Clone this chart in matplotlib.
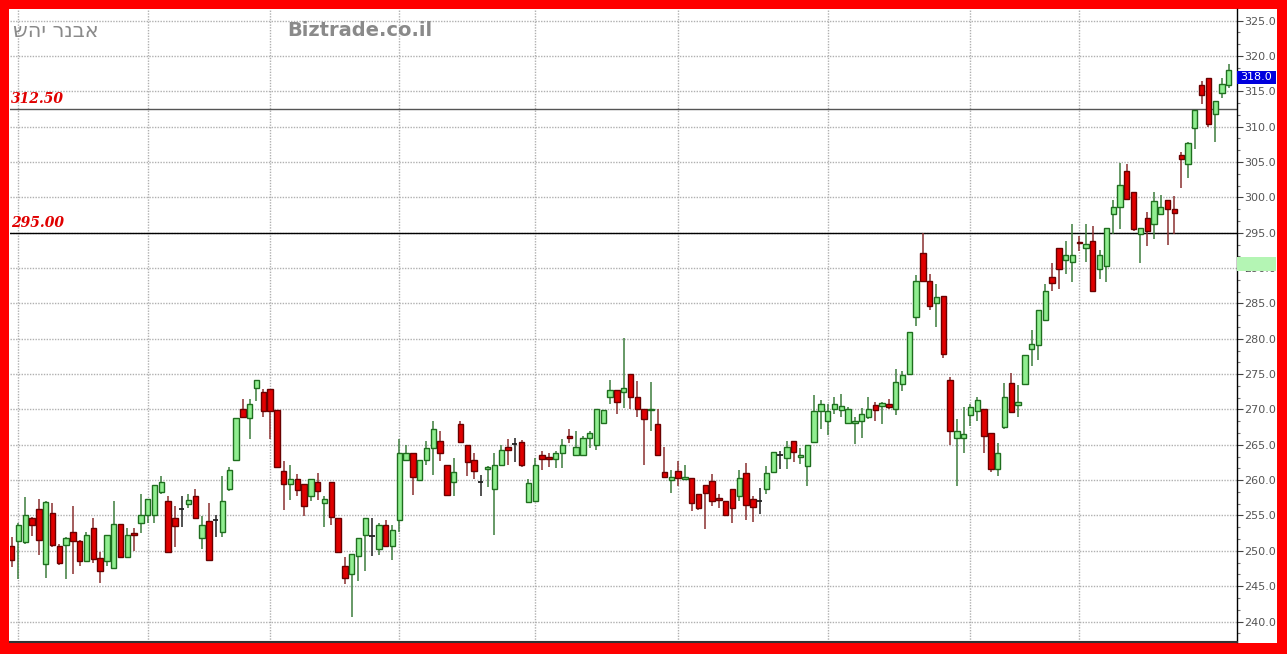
import matplotlib
matplotlib.use("Agg")
import matplotlib.pyplot as plt
from matplotlib.patches import Rectangle
from matplotlib.ticker import MultipleLocator, FormatStrFormatter
import matplotlib.transforms as mtransforms

# daily OHLC
opens = [250.7, 251.4, 251.2, 254.7, 255.9, 248.2, 255.4, 250.7, 250.8, 252.7,
         251.4, 248.6, 253.2, 249.0, 248.6, 247.6, 253.8, 249.1, 252.5, 254.0,
         255.0, 255.0, 258.3, 257.0, 254.7, 255.9, 256.6, 257.8, 251.8, 254.2,
         254.3, 252.6, 258.7, 262.8, 270.0, 268.8, 273.0, 272.5, 272.9, 269.9,
         261.3, 259.5, 260.1, 259.4, 257.7, 259.7, 256.8, 259.7, 254.7, 247.8,
         246.7, 249.2, 252.2, 252.1, 250.2, 253.6, 250.7, 254.4, 262.8, 263.8,
         260.0, 262.8, 264.5, 265.5, 262.2, 259.8, 267.9, 264.9, 262.8, 259.8,
         261.6, 258.8, 262.2, 264.7, 265.1, 265.4, 256.9, 257.0, 263.6, 263.25,
         263.0, 263.8, 266.2, 263.5, 263.5, 266.0, 265.0, 268.1, 271.8, 272.7,
         272.4, 275.0, 271.7, 270.1, 269.9, 268.0, 261.1, 260.0, 261.3, 260.1,
         260.3, 258.1, 259.3, 259.9, 257.5, 257.0, 258.8, 257.7, 261.0, 257.4,
         257.1, 258.8, 261.2, 263.6, 263.2, 265.5, 263.3, 262.0, 265.4, 269.8,
         268.3, 270.1, 269.9, 268.1, 268.1, 268.3, 268.9, 270.6, 270.5, 270.8,
         270.1, 273.6, 275.0, 283.1, 292.1, 288.1, 285.0, 286.0, 274.1, 266.0,
         265.9, 269.2, 269.8, 270.0, 266.7, 261.6, 267.5, 273.8, 270.6, 273.6,
         278.6, 279.1, 282.7, 288.8, 292.9, 291.2, 290.8, 293.7, 292.9, 293.8,
         289.8, 290.3, 297.7, 298.6, 303.7, 300.8, 294.8, 297.1, 296.2, 297.6,
         299.7, 298.4, 306.0, 304.7, 309.8, 315.9, 316.9, 311.8, 314.8, 315.9]
highs = [252.0, 254.0, 257.6, 254.8, 257.3, 257.1, 256.8, 251.0, 252.0, 256.3,
         251.5, 252.7, 254.6, 249.9, 252.2, 257.1, 253.8, 253.2, 253.2, 258.0,
         257.4, 259.3, 260.6, 257.7, 256.4, 257.7, 258.0, 258.8, 254.9, 256.7,
         255.1, 260.6, 261.9, 268.8, 271.5, 271.5, 274.2, 272.9, 272.9, 269.9,
         262.7, 262.2, 260.8, 259.4, 260.2, 261.0, 257.8, 259.7, 254.7, 249.1,
         249.5, 251.8, 254.7, 254.6, 253.9, 254.4, 253.6, 265.8, 265.0, 263.8,
         262.8, 265.5, 268.3, 266.9, 262.2, 263.2, 268.3, 264.9, 263.8, 260.7,
         262.0, 263.8, 265.0, 265.8, 266.0, 265.7, 260.2, 263.2, 264.1, 263.8,
         264.1, 265.8, 267.3, 267.0, 266.3, 267.0, 270.1, 269.9, 274.2, 272.7,
         280.1, 275.0, 274.0, 270.1, 273.9, 270.0, 264.7, 261.5, 262.7, 262.1,
         260.3, 258.1, 259.3, 260.9, 258.0, 257.0, 258.8, 261.4, 262.4, 257.7,
         258.9, 262.0, 264.0, 264.1, 265.5, 265.5, 264.5, 264.9, 272.0, 271.3,
         270.7, 271.7, 272.2, 270.3, 268.9, 270.2, 271.7, 271.0, 271.1, 271.5,
         275.7, 275.4, 281.0, 289.0, 295.0, 289.1, 287.7, 286.0, 274.6, 268.6,
         270.3, 270.8, 271.8, 270.0, 266.7, 265.2, 273.7, 275.2, 273.4, 277.7,
         281.2, 284.1, 287.7, 290.7, 292.9, 293.8, 296.2, 294.5, 296.3, 296.0,
         292.6, 295.7, 299.7, 304.9, 304.7, 300.8, 295.7, 297.9, 300.7, 300.3,
         299.7, 300.2, 306.4, 307.9, 312.4, 316.4, 316.9, 313.7, 316.9, 318.8]
lows = [247.7, 246.0, 251.0, 252.1, 249.4, 246.2, 250.5, 248.0, 246.0, 246.7,
        247.8, 248.6, 248.3, 245.5, 247.9, 247.6, 249.1, 249.1, 250.0, 252.5,
        254.0, 253.9, 258.0, 249.8, 250.6, 253.4, 256.0, 254.6, 250.3, 248.7,
        251.9, 252.0, 258.4, 262.8, 269.0, 265.8, 271.2, 268.9, 265.8, 261.8,
        255.8, 257.2, 257.7, 254.9, 257.1, 257.2, 253.4, 253.6, 249.8, 245.3,
        240.7, 245.7, 247.2, 249.2, 249.4, 250.7, 248.7, 252.7, 262.8, 257.9,
        260.0, 262.1, 260.7, 262.7, 257.9, 257.7, 265.4, 260.6, 260.1, 257.7,
        259.0, 252.2, 262.0, 262.1, 262.5, 261.9, 256.9, 257.0, 261.5, 261.9,
        261.7, 261.7, 265.3, 263.5, 263.5, 264.6, 264.3, 268.1, 270.8, 269.3,
        270.2, 270.1, 269.0, 262.2, 266.9, 263.5, 260.5, 258.2, 259.2, 260.1,
        255.6, 255.8, 253.1, 256.4, 256.1, 255.0, 254.0, 257.0, 254.4, 254.1,
        255.2, 258.1, 261.2, 261.6, 261.6, 262.6, 262.3, 259.2, 265.4, 267.3,
        266.4, 269.3, 268.9, 268.1, 265.1, 266.0, 268.6, 268.4, 268.0, 270.0,
        269.2, 272.6, 275.0, 281.8, 288.1, 284.0, 281.6, 277.3, 265.0, 259.2,
        263.9, 267.6, 268.4, 263.8, 261.1, 260.6, 267.3, 269.6, 269.0, 273.6,
        276.1, 277.0, 282.7, 286.7, 287.0, 289.1, 288.0, 292.4, 290.8, 286.7,
        288.4, 288.0, 294.8, 295.5, 299.7, 295.2, 290.7, 293.1, 294.1, 297.6,
        293.3, 294.8, 301.3, 302.8, 306.9, 313.2, 309.9, 307.9, 314.1, 315.5]
closes = [248.7, 253.7, 255.0, 253.6, 251.5, 256.9, 250.8, 248.3, 251.8, 251.4,
          248.6, 252.2, 248.9, 247.2, 252.2, 253.8, 249.1, 252.2, 252.3, 255.0,
          257.4, 259.3, 259.7, 249.8, 253.5, 255.9, 257.2, 254.6, 253.7, 248.7,
          254.3, 257.1, 261.4, 268.8, 269.0, 270.8, 274.2, 269.8, 269.8, 261.8,
          259.5, 260.1, 258.6, 256.3, 260.2, 258.4, 257.3, 254.8, 249.8, 246.1,
          249.5, 251.8, 254.7, 252.1, 253.6, 250.7, 252.9, 263.8, 263.8, 260.5,
          262.8, 264.6, 267.2, 263.8, 257.9, 261.1, 265.4, 262.5, 261.3, 259.8,
          261.8, 262.2, 264.2, 264.3, 265.1, 262.1, 259.6, 262.2, 263.0, 263.05,
          263.8, 265.0, 266.0, 264.7, 266.0, 266.6, 270.1, 269.9, 272.7, 271.0,
          273.0, 271.7, 270.1, 268.7, 270.1, 263.5, 260.5, 260.4, 260.3, 260.4,
          256.7, 256.0, 258.2, 257.0, 257.2, 255.1, 256.0, 260.3, 256.5, 256.2,
          257.1, 261.0, 264.0, 263.6, 264.7, 264.0, 263.6, 264.9, 269.8, 270.8,
          269.8, 270.7, 270.5, 270.1, 268.4, 269.4, 270.1, 269.9, 270.9, 270.4,
          273.9, 274.9, 281.0, 288.1, 288.1, 284.6, 285.9, 277.8, 266.9, 266.9,
          266.5, 270.3, 271.3, 266.2, 261.6, 263.9, 271.7, 269.6, 271.1, 277.7,
          279.2, 284.1, 286.8, 287.9, 289.8, 291.9, 291.9, 293.5, 293.4, 286.7,
          291.8, 295.7, 298.7, 301.7, 299.8, 295.5, 295.7, 295.3, 299.5, 298.7,
          298.3, 297.8, 305.4, 307.7, 312.4, 314.5, 310.4, 313.7, 316.1, 318.0]

month_starts = [1, 20, 38, 57, 77, 98, 120, 141, 157]
levels = [312.5, 295.0]
level_colors = ["#555555", "#000000"]
last_price = 318.0
logo_text = "Biztrade.co.il"
author_text = "אבנר יהש"

W, H = 1287, 654
fig = plt.figure(figsize=(W / 100, H / 100), dpi=100)
fig.patch.set_facecolor("#ff0000")
# white inner panel inside the red frame
panel = Rectangle((9 / W, 11 / H), 1268 / W, 634 / H,
                  transform=fig.transFigure, facecolor="white",
                  edgecolor="none", zorder=-5)
fig.patches.append(panel)

ax = fig.add_axes([10 / W, 12 / H, 1227 / W, 633 / H])
ax.set_zorder(1)
ax.set_facecolor("white")

x = list(range(len(closes)))
up_face, up_edge, up_wick = "#90ee90", "#1e6e1e", "#3d7d3d"
dn_face, dn_edge, dn_wick = "#e00000", "#6a0000", "#8a3030"

for i in x:
    o, h, l, c = opens[i], highs[i], lows[i], closes[i]
    if c > o:
        wc, fc, ec = up_wick, up_face, up_edge
    elif c < o:
        wc, fc, ec = dn_wick, dn_face, dn_edge
    else:
        wc, fc, ec = "#222222", "#222222", "#222222"
    ax.vlines(i, l, h, color=wc, lw=1.1, zorder=3)
    if c == o:
        ax.hlines(c, i - 0.38, i + 0.38, color=wc, lw=1.3, zorder=4)
    else:
        ax.bar(i, max(abs(c - o), 0.15), bottom=min(o, c), width=0.78,
               color=fc, edgecolor=ec, lw=1.0, zorder=4)

for lv, col in zip(levels, level_colors):
    ax.axhline(lv, color=col, lw=1.0, zorder=2)
    ax.text(-0.1, lv + 0.45, f"{lv:.2f}", color="#e00000", fontsize=10,
            family="DejaVu Serif", weight="bold", style="italic",
            ha="left", va="bottom", zorder=5)

ax.set_xlim(-0.25, 180.2)
ax.set_ylim(237.1, 326.65)

ax.yaxis.tick_right()
ax.yaxis.set_major_locator(MultipleLocator(5))
ax.yaxis.set_minor_locator(MultipleLocator(5 / 3))
ax.yaxis.set_major_formatter(FormatStrFormatter("%.1f"))
ax.tick_params(axis="y", which="major", direction="out", length=4, width=0.8,
               color="#444444", labelsize=8, labelcolor="#555555", pad=1)
ax.tick_params(axis="y", which="minor", direction="out", length=2.5, width=0.8,
               color="#777777")
ax.set_xticks(month_starts)
ax.set_xticklabels([])
ax.tick_params(axis="x", length=0)

ax.grid(True, axis="both", which="major", color="#b0b0b0", lw=1.0,
        linestyle=(0, (1, 1)), zorder=1)
ax.set_axisbelow(True)

for s in ["top", "left"]:
    ax.spines[s].set_visible(False)
ax.spines["right"].set_color("#000000")
ax.spines["bottom"].set_color("#333333")
ax.spines["right"].set_linewidth(1.0)
ax.spines["bottom"].set_linewidth(1.5)

# price boxes on the right axis
trans = mtransforms.blended_transform_factory(ax.transAxes, ax.transData)
bw = 39 / 1227
ax.add_patch(Rectangle((1.0, 289.64), bw, 1.98, transform=trans,
                       facecolor="#b4f5b4", edgecolor="none",
                       clip_on=False, zorder=10))
ax.add_patch(Rectangle((1.0, 316.04), bw, 1.84, transform=trans,
                       facecolor="#0000dd", edgecolor="none",
                       clip_on=False, zorder=10))
ax.text(1.0 + bw / 2, 316.96, f"{last_price:.1f}", transform=trans,
        color="white", fontsize=8, ha="center", va="center",
        clip_on=False, zorder=11)

# watermark texts (hebrew drawn in visual order)
fig.text(13 / W, 1 - 31 / H, author_text[::-1], color="#8a8a8a",
         fontsize=15, ha="left", va="center", zorder=5)
fig.text(287 / W, 1 - 31 / H, logo_text, color="#8a8a8a", fontsize=14,
         weight="bold", ha="left", va="center", zorder=5)

fig.savefig("out.png", dpi=100, facecolor=fig.get_facecolor())
